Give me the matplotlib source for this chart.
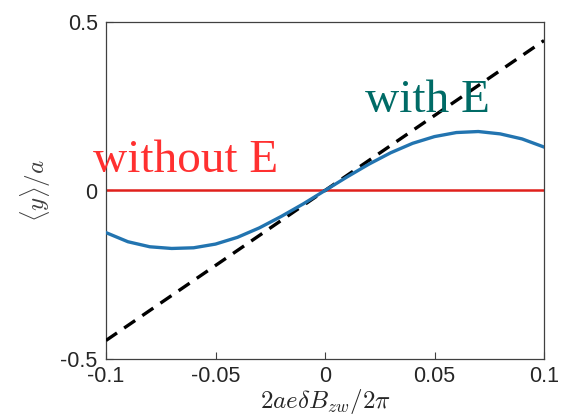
import matplotlib
matplotlib.use("Agg")
import matplotlib.pyplot as plt

plt.rcParams['mathtext.fontset'] = 'cm'

# Field offset (x) and transverse position <y>/a of the wave packet
x_vals = [-0.10, -0.09, -0.08, -0.07, -0.06, -0.05, -0.04, -0.03, -0.02, -0.01,
          0.00, 0.01, 0.02, 0.03, 0.04, 0.05, 0.06, 0.07, 0.08, 0.09, 0.10]
y_with_E = [-0.125, -0.152, -0.167, -0.172, -0.170, -0.159, -0.139, -0.111, -0.077, -0.040,
            0.000, 0.040, 0.078, 0.112, 0.140, 0.160, 0.172, 0.175, 0.168, 0.153, 0.129]
y_without_E = [0.0, 0.0]
x_ends = [-0.10, 0.10]
y_linear = [-0.445, 0.445]

x_ticks = [-0.1, -0.05, 0, 0.05, 0.1]
x_ticklabels = ['-0.1', '-0.05', '0', '0.05', '0.1']
y_ticks = [-0.5, 0, 0.5]
y_ticklabels = ['-0.5', '0', '0.5']

W, H = 567, 419
fig = plt.figure(figsize=(W / 100, H / 100), dpi=100)
ax = fig.add_axes([106 / W, 1 - 359 / H, 438 / W, 337 / H])

ax.plot(x_ends, y_without_E, color='#e0201c', lw=1.8, zorder=2)
ax.plot(x_ends, y_linear, color='black', lw=2.4, ls=(0, (4, 2.6)), zorder=3)
ax.plot(x_vals, y_with_E, color='#2274b0', lw=2.4, zorder=4,
        solid_joinstyle='round')

ax.set_xlim(-0.1, 0.1)
ax.set_ylim(-0.5, 0.5)
ax.set_xticks(x_ticks)
ax.set_xticklabels(x_ticklabels)
ax.set_yticks(y_ticks)
ax.set_yticklabels(y_ticklabels)

for s in ax.spines.values():
    s.set_color('#404040')
    s.set_linewidth(0.9)
ax.tick_params(direction='in', length=5, width=0.8, color='#404040',
               labelsize=15.5, labelcolor='#262626')
ax.tick_params(axis='x', pad=5)
ax.tick_params(axis='y', pad=6)
for lab in ax.get_xticklabels() + ax.get_yticklabels():
    lab.set_fontfamily('Liberation Sans')

ax.set_xlabel(r'$2ae\delta B_{zw}/2\pi$', fontsize=18, color='#262626', labelpad=0)
ax.set_ylabel(r'$\langle y\rangle/a$', fontsize=18, color='#404040', labelpad=5)

ax.text(-0.1059, 0.056, 'without E', family='Liberation Serif', fontsize=34,
        color='#ff3030', va='baseline', ha='left', zorder=5)
ax.text(0.0183, 0.234, 'with E', family='Liberation Serif', fontsize=34,
        color='#006b66', va='baseline', ha='left', zorder=5)

fig.savefig('out.png', dpi=100)
